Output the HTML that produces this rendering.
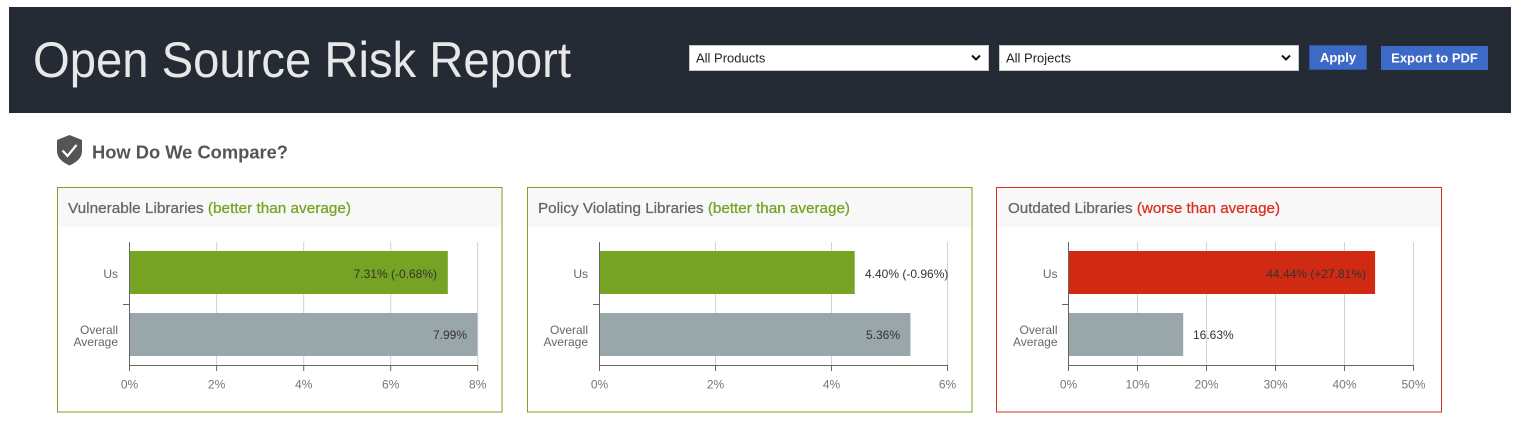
<!DOCTYPE html>
<html>
<head>
<meta charset="utf-8">
<style>
html,body{margin:0;padding:0;background:#fff;}
body{width:1519px;height:430px;overflow:hidden;font-family:"Liberation Sans",sans-serif;}
svg{display:block;}
</style>
</head>
<body>
<svg width="1519" height="430" viewBox="0 0 1519 430" xmlns="http://www.w3.org/2000/svg" font-family="Liberation Sans, sans-serif">
  <!-- Header bar -->
  <rect x="9" y="7" width="1502" height="106" fill="#252b35"/>
  <text x="33" y="77" font-size="50" fill="#e8e8e8" textLength="538" lengthAdjust="spacingAndGlyphs">Open Source Risk Report</text>

  <!-- Select 1 -->
  <rect x="689.5" y="45.5" width="299" height="25" fill="#fff" stroke="#c8c8c8"/>
  <text x="696" y="62.5" font-size="13" fill="#222">All Products</text>
  <path d="M972,55.5 L976,59.5 L980,55.5" fill="none" stroke="#111" stroke-width="2"/>
  <!-- Select 2 -->
  <rect x="999.5" y="45.5" width="299" height="25" fill="#fff" stroke="#c8c8c8"/>
  <text x="1006" y="62.5" font-size="13" fill="#222">All Projects</text>
  <path d="M1282,55.5 L1286,59.5 L1290,55.5" fill="none" stroke="#111" stroke-width="2"/>
  <!-- Buttons -->
  <rect x="1309.5" y="45.5" width="57" height="24" fill="#3d69c7" stroke="#2d56a8"/>
  <text x="1338" y="62" font-size="13" font-weight="bold" fill="#fff" text-anchor="middle">Apply</text>
  <rect x="1381" y="46" width="107" height="24" fill="#3d69c7"/>
  <text x="1434.5" y="62.5" font-size="13" font-weight="bold" fill="#fff" text-anchor="middle">Export to PDF</text>

  <!-- Section heading -->
  <path d="M69.5,135 L82,140 L82,151 Q82,160 69.5,165.5 Q57,160 57,151 L57,140 Z" fill="#555"/>
  <path d="M62.5,150.5 L67.5,156 L76.5,145" fill="none" stroke="#fff" stroke-width="2.2"/>
  <text x="92" y="158.5" font-size="18" font-weight="bold" fill="#555" textLength="196" lengthAdjust="spacingAndGlyphs">How Do We Compare?</text>

  <!-- Panel 1 -->
  <rect x="57.5" y="187.5" width="444.5" height="224.5" fill="#fff" stroke="#76a324"/>
  <rect x="58" y="188" width="443.5" height="39" fill="#f8f8f8"/>
  <text x="68" y="213" font-size="14.5" fill="#666" stroke="#666" stroke-width="0.25" textLength="283" lengthAdjust="spacingAndGlyphs">Vulnerable Libraries <tspan fill="#76a324" stroke="#76a324">(better than average)</tspan></text>
  <g stroke="#d2d2d2" stroke-width="1">
    <line x1="216.6" y1="242" x2="216.6" y2="365"/>
    <line x1="303.7" y1="242" x2="303.7" y2="365"/>
    <line x1="390.7" y1="242" x2="390.7" y2="365"/>
    <line x1="477.7" y1="242" x2="477.7" y2="365"/>
  </g>
  <rect x="129.5" y="251" width="318.3" height="43" fill="#76a324"/>
  <rect x="129.5" y="313" width="347.9" height="43" fill="#99a6aa"/>
  <g stroke="#666" stroke-width="1">
    <line x1="129.5" y1="242" x2="129.5" y2="365.5"/>
    <line x1="123" y1="304.5" x2="129.5" y2="304.5"/>
    <line x1="129.5" y1="365.5" x2="477.7" y2="365.5"/>
    <line x1="129.5" y1="365" x2="129.5" y2="371"/>
    <line x1="216.6" y1="365" x2="216.6" y2="371"/>
    <line x1="303.7" y1="365" x2="303.7" y2="371"/>
    <line x1="390.7" y1="365" x2="390.7" y2="371"/>
    <line x1="477.7" y1="365" x2="477.7" y2="371"/>
  </g>
  <g font-size="12" fill="#666" text-anchor="end">
    <text x="118" y="278">Us</text>
    <text x="118" y="334">Overall</text>
    <text x="118" y="346">Average</text>
  </g>
  <g font-size="12" fill="#333" text-anchor="end">
    <text x="437" y="278">7.31% (-0.68%)</text>
    <text x="467" y="339">7.99%</text>
  </g>
  <g font-size="12" fill="#777" text-anchor="middle">
    <text x="129.5" y="388.5">0%</text>
    <text x="216.6" y="388.5">2%</text>
    <text x="303.7" y="388.5">4%</text>
    <text x="390.7" y="388.5">6%</text>
    <text x="477.7" y="388.5">8%</text>
  </g>

  <!-- Panel 2 -->
  <rect x="527.5" y="187.5" width="444.5" height="224.5" fill="#fff" stroke="#76a324"/>
  <rect x="528" y="188" width="443.5" height="39" fill="#f8f8f8"/>
  <text x="538" y="213" font-size="14.5" fill="#666" stroke="#666" stroke-width="0.25" textLength="312" lengthAdjust="spacingAndGlyphs">Policy Violating Libraries <tspan fill="#76a324" stroke="#76a324">(better than average)</tspan></text>
  <g stroke="#d2d2d2" stroke-width="1">
    <line x1="715.5" y1="242" x2="715.5" y2="365"/>
    <line x1="831.5" y1="242" x2="831.5" y2="365"/>
    <line x1="947.5" y1="242" x2="947.5" y2="365"/>
  </g>
  <rect x="599.5" y="251" width="255.2" height="43" fill="#76a324"/>
  <rect x="599.5" y="313" width="310.9" height="43" fill="#99a6aa"/>
  <g stroke="#666" stroke-width="1">
    <line x1="599.5" y1="242" x2="599.5" y2="365.5"/>
    <line x1="593" y1="304.5" x2="599.5" y2="304.5"/>
    <line x1="599.5" y1="365.5" x2="947.5" y2="365.5"/>
    <line x1="599.5" y1="365" x2="599.5" y2="371"/>
    <line x1="715.5" y1="365" x2="715.5" y2="371"/>
    <line x1="831.5" y1="365" x2="831.5" y2="371"/>
    <line x1="947.5" y1="365" x2="947.5" y2="371"/>
  </g>
  <g font-size="12" fill="#666" text-anchor="end">
    <text x="588" y="278">Us</text>
    <text x="588" y="334">Overall</text>
    <text x="588" y="346">Average</text>
  </g>
  <g font-size="12" fill="#333">
    <text x="865" y="278">4.40% (-0.96%)</text>
    <text x="900" y="339" text-anchor="end">5.36%</text>
  </g>
  <g font-size="12" fill="#777" text-anchor="middle">
    <text x="599.5" y="388.5">0%</text>
    <text x="715.5" y="388.5">2%</text>
    <text x="831.5" y="388.5">4%</text>
    <text x="947.5" y="388.5">6%</text>
  </g>

  <!-- Panel 3 -->
  <rect x="996.5" y="187.5" width="445" height="224.5" fill="#fff" stroke="#d2301c"/>
  <rect x="997" y="188" width="444" height="39" fill="#f8f8f8"/>
  <text x="1008" y="213" font-size="14.5" fill="#666" stroke="#666" stroke-width="0.25" textLength="272" lengthAdjust="spacingAndGlyphs">Outdated Libraries <tspan fill="#d9301e" stroke="#d9301e">(worse than average)</tspan></text>
  <g stroke="#d2d2d2" stroke-width="1">
    <line x1="1137.5" y1="242" x2="1137.5" y2="365"/>
    <line x1="1206.5" y1="242" x2="1206.5" y2="365"/>
    <line x1="1275.5" y1="242" x2="1275.5" y2="365"/>
    <line x1="1344.5" y1="242" x2="1344.5" y2="365"/>
    <line x1="1413.5" y1="242" x2="1413.5" y2="365"/>
  </g>
  <rect x="1068.5" y="251" width="306.6" height="43" fill="#d02a12"/>
  <rect x="1068.5" y="313" width="114.7" height="43" fill="#99a6aa"/>
  <g stroke="#666" stroke-width="1">
    <line x1="1068.5" y1="242" x2="1068.5" y2="365.5"/>
    <line x1="1062" y1="304.5" x2="1068.5" y2="304.5"/>
    <line x1="1068.5" y1="365.5" x2="1413.5" y2="365.5"/>
    <line x1="1068.5" y1="365" x2="1068.5" y2="371"/>
    <line x1="1137.5" y1="365" x2="1137.5" y2="371"/>
    <line x1="1206.5" y1="365" x2="1206.5" y2="371"/>
    <line x1="1275.5" y1="365" x2="1275.5" y2="371"/>
    <line x1="1344.5" y1="365" x2="1344.5" y2="371"/>
    <line x1="1413.5" y1="365" x2="1413.5" y2="371"/>
  </g>
  <g font-size="12" fill="#666" text-anchor="end">
    <text x="1057.5" y="278">Us</text>
    <text x="1057.5" y="334">Overall</text>
    <text x="1057.5" y="346">Average</text>
  </g>
  <g font-size="12" fill="#333">
    <text x="1366" y="278" text-anchor="end">44.44% (+27.81%)</text>
    <text x="1193" y="339">16.63%</text>
  </g>
  <g font-size="12" fill="#777" text-anchor="middle">
    <text x="1068.5" y="388.5">0%</text>
    <text x="1137.5" y="388.5">10%</text>
    <text x="1206.5" y="388.5">20%</text>
    <text x="1275.5" y="388.5">30%</text>
    <text x="1344.5" y="388.5">40%</text>
    <text x="1413.5" y="388.5">50%</text>
  </g>
</svg>
</body>
</html>
